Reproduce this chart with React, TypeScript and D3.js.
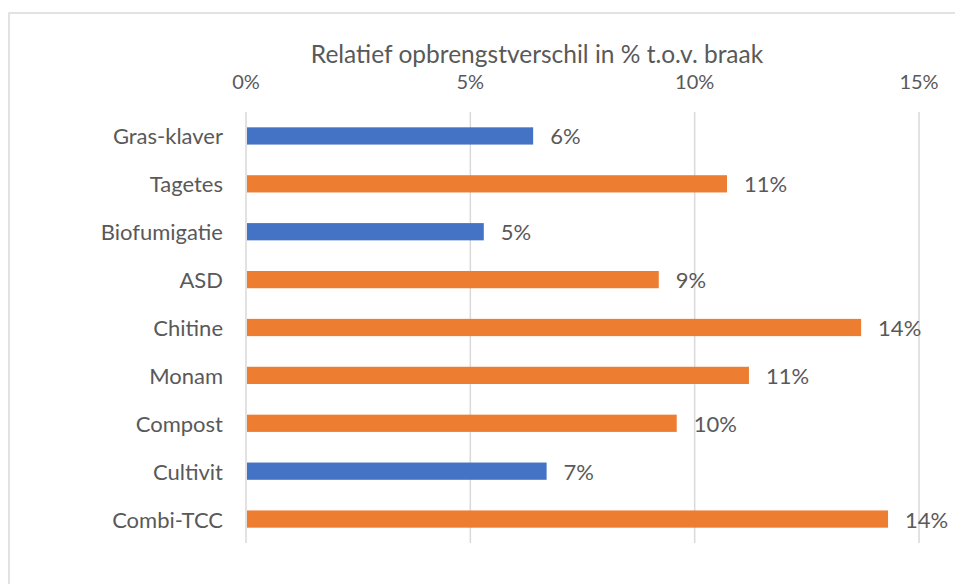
import { scaleBand, scaleLinear } from "d3";

const categories = [
  "Gras-klaver",
  "Tagetes",
  "Biofumigatie",
  "ASD",
  "Chitine",
  "Monam",
  "Compost",
  "Cultivit",
  "Combi-TCC",
];
const values = [6.4, 10.72, 5.3, 9.2, 13.71, 11.21, 9.6, 6.7, 14.31];
// blue = group 0, orange = group 1
const groups = [0, 1, 0, 1, 1, 1, 1, 0, 1];
const ticks = [0, 5, 10, 15];
const title = "Relatief opbrengstverschil in % t.o.v. braak";

const width = 955;
const height = 584;
const colors = ["#4472C4", "#ED7D31"];
const textColor = "#595959";
const font = "Lato, 'Noto Sans', sans-serif";

const plotTop = 112;
const plotBottom = 543;
const plotLeft = 246;
const plotRight = 919;

function App() {
  const x = scaleLinear().domain([0, 15]).range([plotLeft, plotRight]);
  const y = scaleBand<string>()
    .domain(categories)
    .range([plotTop, plotBottom])
    .paddingInner(0.64)
    .paddingOuter(0.32);

  return (
    <div style={{ position: "absolute", left: 0, top: 0 }}>
      <svg width={width} height={height} style={{ display: "block" }}>
        <rect width={width} height={height} fill="#fff" />
        <rect
          x={9}
          y={13}
          width={width + 20}
          height={height + 20}
          fill="none"
          stroke="#D9D9D9"
          strokeWidth={1.5}
        />
        <text
          x={537}
          y={63}
          textAnchor="middle"
          fontFamily={font}
          fontSize={24.5}
          fill={textColor}
        >
          {title}
        </text>
        {ticks.map((t) => (
          <g key={t}>
            <line
              x1={x(t)}
              x2={x(t)}
              y1={plotTop}
              y2={plotBottom}
              stroke="#D9D9D9"
              strokeWidth={1.5}
            />
            <text
              x={x(t)}
              y={89}
              textAnchor="middle"
              fontFamily={font}
              fontSize={20}
              fill={textColor}
            >
              {t}%
            </text>
          </g>
        ))}
        {categories.map((c, i) => {
          const cy = (y(c) as number) + y.bandwidth() / 2;
          return (
            <g key={c}>
              <rect
                x={x(0) + 1}
                y={y(c)}
                width={x(values[i]) - x(0) - 1}
                height={y.bandwidth()}
                fill={colors[groups[i]]}
              />
              <text
                x={223}
                y={cy}
                textAnchor="end"
                dominantBaseline="central"
                fontFamily={font}
                fontSize={22}
                fill={textColor}
              >
                {c}
              </text>
              <text
                x={x(values[i]) + 17}
                y={cy}
                dominantBaseline="central"
                fontFamily={font}
                fontSize={22}
                fill={textColor}
              >
                {Math.round(values[i])}%
              </text>
            </g>
          );
        })}
      </svg>
    </div>
  );
}

export default App;
